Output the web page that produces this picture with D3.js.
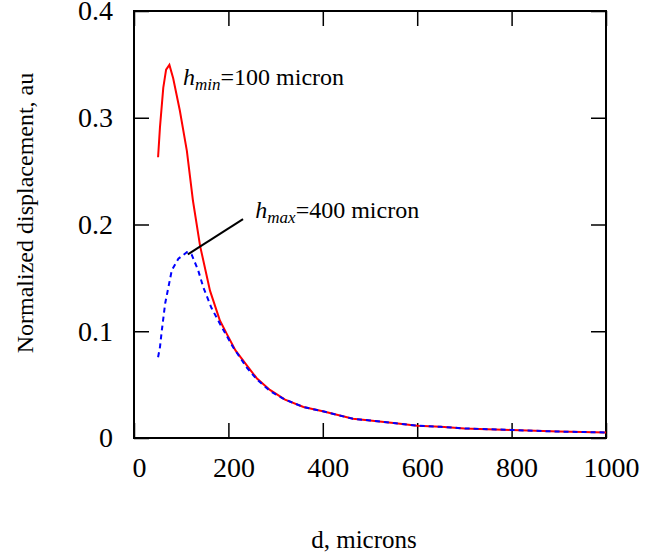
<!DOCTYPE html>
<html>
<head>
<meta charset="utf-8">
<script src="https://cdn.jsdelivr.net/npm/d3@7"></script>
<style>
  body { margin: 0; background: #fff; }
  svg text { font-family: "Liberation Serif", "Times New Roman", serif; fill: #000; }
</style>
</head>
<body>
<div class="chart-container"></div>
<script>
// d (microns) and normalized displacement
var dMin = [51, 55, 62, 68, 75, 83, 97, 112, 125, 140, 161, 182, 196, 215, 239, 260, 288, 320, 359, 400, 464, 500, 550, 600, 650, 700, 800, 900, 1000];
var hMinValues = [0.263, 0.291, 0.328, 0.345, 0.3495, 0.337, 0.307, 0.269, 0.222, 0.180, 0.138, 0.110, 0.098, 0.082, 0.068, 0.056, 0.045, 0.036, 0.029, 0.025, 0.018, 0.0165, 0.014, 0.0115, 0.0105, 0.009, 0.0075, 0.006, 0.0052];

var dMax = [51, 55, 59, 66, 80, 94, 112, 122, 136, 147, 164, 182, 210, 239, 260, 288, 320, 359, 400, 464, 500, 550, 600, 650, 700, 800, 900, 1000];
var hMaxValues = [0.0757, 0.085, 0.101, 0.126, 0.157, 0.168, 0.174, 0.172, 0.157, 0.141, 0.122, 0.107, 0.085, 0.066, 0.055, 0.044, 0.036, 0.029, 0.025, 0.018, 0.0165, 0.014, 0.0115, 0.0105, 0.009, 0.0075, 0.006, 0.0052];

var xTicks = [0, 200, 400, 600, 800, 1000];
var yTicks = [0, 0.1, 0.2, 0.3, 0.4];

var margin = {top: 11, right: 62, bottom: 116, left: 134},
    width = 668 - margin.left - margin.right,
    height = 554 - margin.top - margin.bottom;

var x = d3.scaleLinear().domain([0, 1000]).range([0, width]);
var y = d3.scaleLinear().domain([0, 0.4]).range([height, 0]);

var svg = d3.select(".chart-container").append("svg")
    .attr("width", 668)
    .attr("height", 554)
  .append("g")
    .attr("transform", "translate(" + margin.left + "," + margin.top + ")");

// axes: ticks point inward on all four sides
var tickLen = 15;

svg.append("g")
    .attr("transform", "translate(0," + height + ")")
    .call(d3.axisBottom(x).tickValues(xTicks).tickSize(-tickLen).tickPadding(tickLen + 4).tickFormat(d3.format("d")))
    .call(function(g) {
      g.select(".domain").remove();
      g.selectAll("text").attr("font-size", 28).attr("dx", 5).attr("dy", "0.71em");
    });

svg.append("g")
    .call(d3.axisTop(x).tickValues(xTicks).tickSize(-tickLen).tickFormat(""))
    .call(function(g) { g.select(".domain").remove(); });

svg.append("g")
    .call(d3.axisLeft(y).tickValues(yTicks).tickSize(-tickLen).tickPadding(tickLen + 6).tickFormat(function(d) { return d === 0 ? "0" : d3.format(".1f")(d); }))
    .call(function(g) {
      g.select(".domain").remove();
      g.selectAll("text").attr("font-size", 28);
    });

svg.append("g")
    .attr("transform", "translate(" + width + ",0)")
    .call(d3.axisRight(y).tickValues(yTicks).tickSize(-tickLen).tickFormat(""))
    .call(function(g) { g.select(".domain").remove(); });

svg.selectAll(".tick line").attr("stroke", "#000").attr("stroke-width", 1.5);

svg.append("rect")
    .attr("width", width)
    .attr("height", height)
    .attr("fill", "none")
    .attr("stroke", "#000")
    .attr("stroke-width", 2);

// curves
var line = d3.line()
    .x(function(d) { return x(d[0]); })
    .y(function(d) { return y(d[1]); });

svg.append("path")
    .datum(d3.zip(dMin, hMinValues))
    .attr("fill", "none")
    .attr("stroke", "#ff0000")
    .attr("stroke-width", 2)
    .attr("d", line);

svg.append("path")
    .datum(d3.zip(dMax, hMaxValues))
    .attr("fill", "none")
    .attr("stroke", "#0000ff")
    .attr("stroke-width", 2)
    .attr("stroke-dasharray", "5,4")
    .attr("d", line);

// annotations
function label(px, py, sub, rest) {
  var t = svg.append("text")
      .attr("x", px)
      .attr("y", py)
      .attr("font-size", 24);
  t.append("tspan").attr("font-style", "italic").text("h");
  t.append("tspan").attr("font-style", "italic").attr("font-size", 17).attr("dy", 5).text(sub);
  t.append("tspan").attr("dy", -5).text(rest);
}

label(x(104), 74, "min", "=100 micron");
label(x(257), 207, "max", "=400 micron");

svg.append("line")
    .attr("x1", x(114)).attr("y1", y(0.172))
    .attr("x2", x(231)).attr("y2", y(0.205))
    .attr("stroke", "#000")
    .attr("stroke-width", 2);

// axis titles
svg.append("text")
    .attr("transform", "translate(" + (25 - margin.left) + "," + (213 - margin.top) + ") rotate(-90)")
    .attr("text-anchor", "middle")
    .attr("dy", "0.35em")
    .attr("font-size", 24)
    .text("Normalized displacement, au");

svg.append("text")
    .attr("x", 364 - margin.left)
    .attr("y", 548 - margin.top)
    .attr("text-anchor", "middle")
    .attr("font-size", 25)
    .text("d, microns");
</script>
</body>
</html>
